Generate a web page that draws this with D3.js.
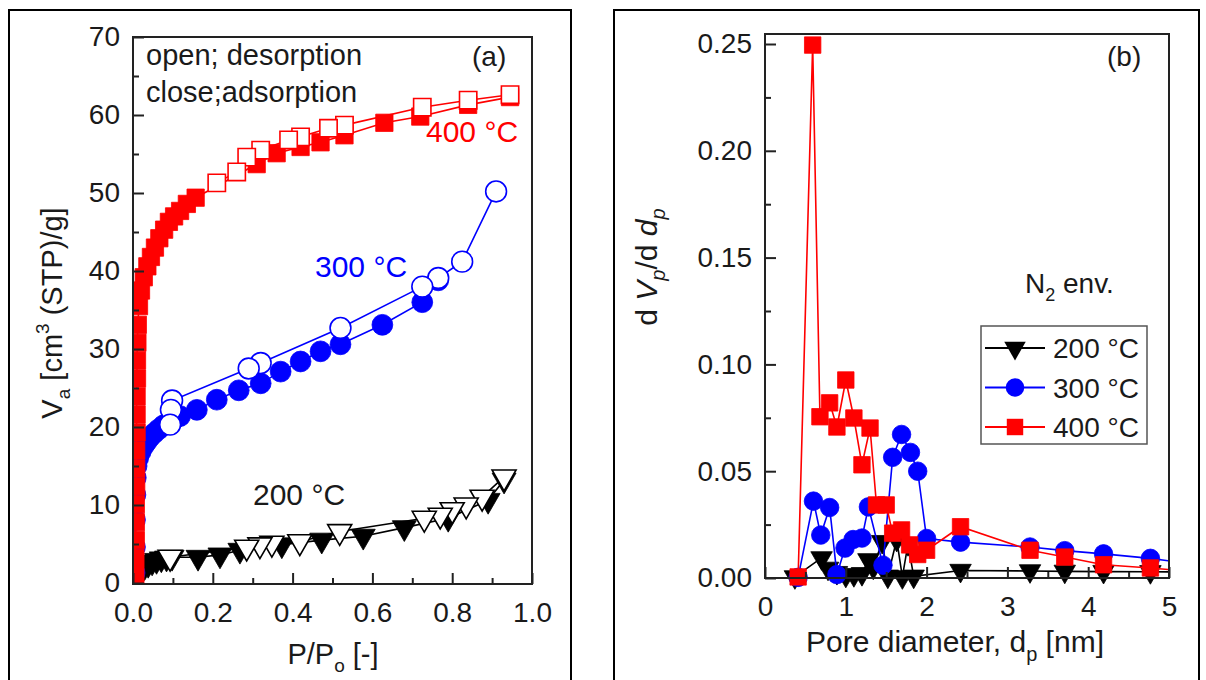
<!DOCTYPE html>
<html><head><meta charset="utf-8">
<script src="https://cdn.jsdelivr.net/npm/d3@7"></script>
<style>
body{margin:0;background:#fff;}
svg{display:block;font-family:Arial,"Liberation Sans",sans-serif;}
</style></head><body>
<svg id="c" width="1206" height="680"></svg>
<script>
// ---------- Panel (a): N2 isotherms, P/Po vs Va ----------
const ads200 = [[0.003,0.5],[0.008,1.0],[0.014,1.4],[0.021,1.8],[0.029,2.1],[0.038,2.4],[0.048,2.7],[0.059,2.9],[0.071,3.1],[0.084,3.2],[0.098,3.3],[0.163,3.3],[0.218,3.6],[0.268,4.2],[0.373,4.9],[0.473,5.5],[0.577,6.0],[0.68,7.1],[0.79,8.3],[0.89,10.6],[0.93,13.2]];
const des200 = [[0.93,13.6],[0.875,11.0],[0.835,10.0],[0.80,9.4],[0.77,8.7],[0.73,8.3],[0.518,6.6],[0.418,5.3],[0.348,5.1],[0.318,4.9],[0.285,4.6],[0.093,3.3]];
const ads300 = [[0.004,1.3],[0.005,4.6],[0.005,8.1],[0.006,11.3],[0.007,13.5],[0.009,15.0],[0.013,16.0],[0.019,16.8],[0.026,17.5],[0.034,18.1],[0.043,18.7],[0.053,19.2],[0.064,19.7],[0.076,20.2],[0.089,20.6],[0.103,21.0],[0.118,21.4],[0.16,22.2],[0.21,23.5],[0.265,24.7],[0.32,25.6],[0.37,27.1],[0.42,28.4],[0.47,29.7],[0.52,30.6],[0.625,33.1],[0.725,36.0],[0.765,38.8]];
const des300 = [[0.91,50.2],[0.825,41.2],[0.765,39.1],[0.725,38.0],[0.52,32.7],[0.32,28.2],[0.29,27.5],[0.098,23.4],[0.095,22.2],[0.093,20.3]];
const ads400 = [[0.006,1.0],[0.006,3.2],[0.007,5.5],[0.007,7.8],[0.007,10.1],[0.008,12.4],[0.008,14.7],[0.008,17.0],[0.009,19.3],[0.009,21.6],[0.009,23.9],[0.010,26.2],[0.010,28.5],[0.011,30.8],[0.012,33.1],[0.015,35.5],[0.02,37.5],[0.027,39.2],[0.036,40.6],[0.045,41.8],[0.055,43.0],[0.066,44.2],[0.078,45.3],[0.09,46.3],[0.103,47.0],[0.118,47.7],[0.135,48.6],[0.157,49.4],[0.31,53.7],[0.36,55.1],[0.42,55.9],[0.47,56.5],[0.53,57.4],[0.63,59.0],[0.72,59.8],[0.84,61.3],[0.945,62.3]];
const des400 = [[0.945,62.6],[0.84,61.9],[0.725,61.0],[0.53,58.7],[0.49,58.3],[0.42,57.2],[0.39,56.8],[0.32,55.5],[0.285,54.6],[0.26,52.7],[0.21,51.3]];
const xTicksA = [0,0.2,0.4,0.6,0.8,1.0];
const xMinorA = [0.1,0.3,0.5,0.7,0.9];
const yTicksA = [0,10,20,30,40,50,60,70];
const yMinorA = [5,15,25,35,45,55,65];

// ---------- Panel (b): pore size distribution ----------
const psd200 = [[0.37,0.0005],[0.70,0.0094],[0.78,0.0045],[0.89,0.0025],[1.0,0.0012],[1.1,0.0015],[1.2,0.002],[1.28,0.0085],[1.34,0.005],[1.45,0.017],[1.52,0.0008],[1.63,0.018],[1.70,0.0005],[1.77,0.016],[1.84,0.0008],[2.42,0.0035],[3.28,0.0033],[3.71,0.0031],[4.19,0.003],[4.77,0.0029],[5.3,0.0028]];
const psd300 = [[0.41,0.0003],[0.60,0.0360],[0.69,0.0201],[0.80,0.0330],[0.89,0.0016],[0.99,0.014],[1.09,0.0180],[1.20,0.0187],[1.28,0.0333],[1.46,0.006],[1.58,0.0565],[1.69,0.0672],[1.80,0.0588],[1.89,0.0500],[2.0,0.0185],[2.42,0.0168],[3.28,0.0145],[3.71,0.0128],[4.19,0.0113],[4.77,0.0092],[5.3,0.0065]];
const psd400 = [[0.41,0.0005],[0.59,0.2495],[0.68,0.0755],[0.80,0.0820],[0.89,0.0707],[1.00,0.0927],[1.10,0.0749],[1.20,0.0530],[1.30,0.0702],[1.38,0.0342],[1.50,0.0342],[1.58,0.0210],[1.69,0.0225],[1.79,0.0155],[1.89,0.0110],[2.00,0.0130],[2.42,0.0240],[3.28,0.0130],[3.71,0.0098],[4.19,0.0062],[4.77,0.0047],[5.3,0.0030]];
const xTicksB = [0,1,2,3,4,5];
const xMinorB = [0.5,1.5,2.5,3.5,4.5];
const yTicksB = [0,0.05,0.10,0.15,0.20,0.25];
const yMinorB = [0.025,0.075,0.125,0.175,0.225];
const legendLabels = ["200 °C","300 °C","400 °C"];

const RED = "#ff0000", BLUE = "#0000ff", BLACK = "#000000";
const svg = d3.select("#c");

// outer frames
svg.append("rect").attr("x",9).attr("y",10).attr("width",562).attr("height",700)
  .attr("fill","none").attr("stroke","#000").attr("stroke-width",2);
svg.append("rect").attr("x",614).attr("y",10).attr("width",585).attr("height",700)
  .attr("fill","none").attr("stroke","#000").attr("stroke-width",2);

const TXT = "#1a1a1a";

function axes(g, x, y, frame, xt, xm, yt, ym, xfmt, yfmt) {
  const [x0,x1,y0,y1] = frame;
  g.append("g").attr("transform",`translate(0,${y0})`)
    .call(d3.axisBottom(x).tickValues(xt).tickFormat(xfmt).tickSize(-11).tickPadding(18))
    .call(s=>{s.select(".domain").remove(); s.selectAll("line").attr("stroke","#222").attr("stroke-width",2);
      s.selectAll("text").attr("font-size",28).attr("fill",TXT).attr("font-family",null);});
  g.append("g").attr("transform",`translate(0,${y0})`)
    .call(d3.axisBottom(x).tickValues(xm).tickFormat("").tickSize(-6))
    .call(s=>{s.select(".domain").remove(); s.selectAll("line").attr("stroke","#222").attr("stroke-width",2);});
  g.append("g").attr("transform",`translate(${x0},0)`)
    .call(d3.axisLeft(y).tickValues(yt).tickFormat(yfmt).tickSize(-11).tickPadding(13))
    .call(s=>{s.select(".domain").remove(); s.selectAll("line").attr("stroke","#222").attr("stroke-width",2);
      s.selectAll("text").attr("font-size",28).attr("fill",TXT).attr("font-family",null);});
  g.append("g").attr("transform",`translate(${x0},0)`)
    .call(d3.axisLeft(y).tickValues(ym).tickFormat("").tickSize(-6))
    .call(s=>{s.select(".domain").remove(); s.selectAll("line").attr("stroke","#222").attr("stroke-width",2);});
  g.append("rect").attr("x",x0).attr("y",y1).attr("width",x1-x0).attr("height",y0-y1)
    .attr("fill","none").attr("stroke","#222").attr("stroke-width",2);
}

function series(g, x, y, data, color, sym, size, open, rot, lw) {
  const line = d3.line().x(d=>x(d[0])).y(d=>y(d[1]));
  g.append("path").datum(data).attr("d",line).attr("fill","none").attr("stroke",color).attr("stroke-width",lw);
  g.selectAll(null).data(data).enter().append("path")
    .attr("d", d3.symbol(sym, size))
    .attr("transform", d=>`translate(${x(d[0])},${y(d[1])})` + (rot ? " rotate(180)" : ""))
    .attr("fill", open ? "#fff" : color)
    .attr("stroke", color).attr("stroke-width", open ? 1.6 : 0.8);
}

// ---------- Panel (a) ----------
const fa = [133,532,584,37];
const xa = d3.scaleLinear().domain([0,1]).range([133,532]);
const ya = d3.scaleLinear().domain([0,70]).range([583,37]);
const ga = svg.append("g");
svg.append("clipPath").attr("id","clipA").append("rect").attr("x",134).attr("y",38).attr("width",397).attr("height",545);
const da = ga.append("g").attr("clip-path","url(#clipA)");
series(da, xa, ya, ads200, BLACK, d3.symbolTriangle, 250, false, true, 1.6);
series(da, xa, ya, des200, BLACK, d3.symbolTriangle, 250, true, true, 1.6);
series(da, xa, ya, ads300, BLUE, d3.symbolCircle, 340, false, false, 1.6);
series(da, xa, ya, des300, BLUE, d3.symbolCircle, 340, true, false, 1.6);
series(da, xa, ya, ads400, RED, d3.symbolSquare, 300, false, false, 1.6);
series(da, xa, ya, des400, RED, d3.symbolSquare, 300, true, false, 1.6);
axes(ga, xa, ya, fa, xTicksA, xMinorA, yTicksA, yMinorA, d3.format(".1f"), d3.format("d"));

ga.append("text").attr("x",146).attr("y",65).attr("font-size",29).attr("fill",TXT).text("open; desorption");
ga.append("text").attr("x",146).attr("y",102).attr("font-size",29).attr("fill",TXT).text("close;adsorption");
ga.append("text").attr("x",472).attr("y",66).attr("font-size",28).attr("fill",TXT).text("(a)");
ga.append("text").attr("x",426).attr("y",142).attr("font-size",30).attr("fill",RED).text("400 °C");
ga.append("text").attr("x",315).attr("y",277).attr("font-size",30).attr("fill",BLUE).text("300 °C");
ga.append("text").attr("x",253).attr("y",505).attr("font-size",30).attr("fill",TXT).text("200 °C");

// axis titles (a)
const xta = ga.append("text").attr("x",333).attr("y",664).attr("text-anchor","middle").attr("font-size",29).attr("fill",TXT);
xta.append("tspan").text("P/P");
xta.append("tspan").attr("font-size",19).attr("dy",8).text("o");
xta.append("tspan").attr("dy",-8).text(" [-]");
const yta = ga.append("text").attr("transform","translate(62,313) rotate(-90)").attr("text-anchor","middle").attr("font-size",29).attr("fill",TXT);
yta.append("tspan").text("V");
yta.append("tspan").attr("font-size",19).attr("dy",8).text("a");
yta.append("tspan").attr("dy",-8).text(" [cm");
yta.append("tspan").attr("font-size",19).attr("dy",-13).text("3");
yta.append("tspan").attr("dy",13).text(" (STP)/g]");

// ---------- Panel (b) ----------
const fb = [765,1169,578,34];
const xb = d3.scaleLinear().domain([0,5]).range([765,1169]);
const yb = d3.scaleLinear().domain([0,0.25]).range([578,44]);
const gb = svg.append("g");
svg.append("clipPath").attr("id","clipB").append("rect").attr("x",766).attr("y",20).attr("width",402).attr("height",570);
const db = gb.append("g").attr("clip-path","url(#clipB)");
series(db, xb, yb, psd200, BLACK, d3.symbolTriangle, 200, false, true, 1.6);
series(db, xb, yb, psd300, BLUE, d3.symbolCircle, 270, false, false, 1.6);
series(db, xb, yb, psd400, RED, d3.symbolSquare, 270, false, false, 1.6);
axes(gb, xb, yb, fb, xTicksB, xMinorB, yTicksB, yMinorB, d3.format("d"), d3.format(".2f"));

gb.append("text").attr("x",1107).attr("y",66).attr("font-size",28).attr("fill",TXT).text("(b)");
const n2 = gb.append("text").attr("x",1025).attr("y",293).attr("font-size",28).attr("fill",TXT);
n2.append("tspan").text("N");
n2.append("tspan").attr("font-size",18).attr("dy",8).text("2");
n2.append("tspan").attr("dy",-8).text(" env.");

// legend
const lg = gb.append("g");
lg.append("rect").attr("x",981).attr("y",326).attr("width",166).attr("height",118)
  .attr("fill","#fff").attr("stroke","#555").attr("stroke-width",1.5);
const legColors = [BLACK, BLUE, RED];
const legSyms = [d3.symbolTriangle, d3.symbolCircle, d3.symbolSquare];
const legSizes = [200, 270, 270];
legendLabels.forEach((t,i)=>{
  const cy = 348 + i*39.5;
  lg.append("line").attr("x1",985).attr("x2",1045).attr("y1",cy).attr("y2",cy).attr("stroke",legColors[i]).attr("stroke-width",2);
  lg.append("path").attr("d",d3.symbol(legSyms[i],legSizes[i]))
    .attr("transform",`translate(1015,${cy})`+(i===0?" rotate(180)":"")).attr("fill",legColors[i]);
  lg.append("text").attr("x",1053).attr("y",cy+10).attr("font-size",28).attr("fill",TXT).text(t);
});

// axis titles (b)
const xtb = gb.append("text").attr("x",955).attr("y",652).attr("text-anchor","middle").attr("font-size",30).attr("fill",TXT);
xtb.append("tspan").text("Pore diameter, d");
xtb.append("tspan").attr("font-size",20).attr("dy",9).text("p");
xtb.append("tspan").attr("dy",-9).text(" [nm]");
const ytb = gb.append("text").attr("transform","translate(657,267) rotate(-90)").attr("text-anchor","middle").attr("font-size",30).attr("fill",TXT);
ytb.append("tspan").text("d ");
ytb.append("tspan").attr("font-style","italic").text("V");
ytb.append("tspan").attr("font-style","italic").attr("font-size",20).attr("dy",8).text("p");
ytb.append("tspan").attr("dy",-8).text("/d ");
ytb.append("tspan").attr("font-style","italic").text("d");
ytb.append("tspan").attr("font-style","italic").attr("font-size",20).attr("dy",8).text("p");
</script>
</body></html>
